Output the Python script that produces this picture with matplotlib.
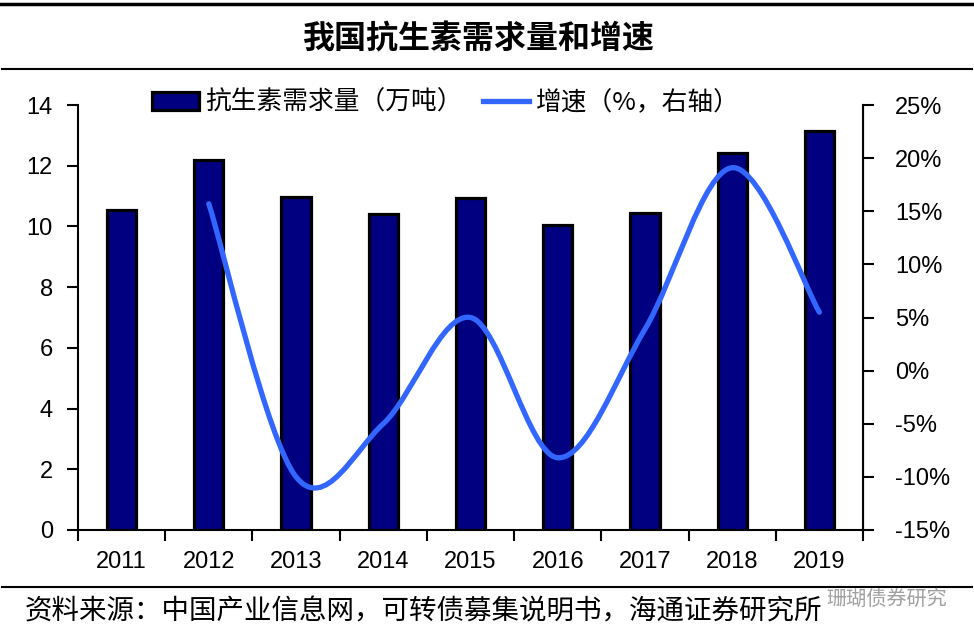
import matplotlib
matplotlib.use("Agg")
import matplotlib.pyplot as plt
from matplotlib.path import Path
from matplotlib.patches import PathPatch, Patch
from matplotlib.lines import Line2D
import numpy as np

plt.rcParams['font.family'] = ['Noto Sans CJK SC', 'DejaVu Sans']

years = ['2011', '2012', '2013', '2014', '2015', '2016', '2017', '2018', '2019']
demand = [10.54, 12.19, 10.97, 10.42, 10.95, 10.05, 10.44, 12.43, 13.14]
growth_years = ['2012', '2013', '2014', '2015', '2016', '2017', '2018', '2019']
growth = [15.7, -10.0, -5.0, 5.0, -8.2, 3.9, 19.1, 5.5]
left_ticks = [0, 2, 4, 6, 8, 10, 12, 14]
right_ticks = [-15, -10, -5, 0, 5, 10, 15, 20, 25]

title = '我国抗生素需求量和增速'
label_bar = '抗生素需求量（万吨）'
label_line = '增速（%，右轴）'
source = '资料来源：中国产业信息网，可转债募集说明书，海通证券研究所'
watermark = '珊瑚债券研究'

W, H = 974, 641
fig = plt.figure(figsize=(W / 100, H / 100), dpi=100)

L, R, T, B = 78, 863, 105, 530
ax = fig.add_axes([L / W, 1 - B / H, (R - L) / W, (B - T) / H])
ax2 = ax.twinx()

x = np.arange(len(years))
ax.bar(x, demand, width=0.335, color='#000080', edgecolor='black', linewidth=2.3, zorder=2)
ax.set_xlim(-0.5, len(years) - 0.5)
ax.set_ylim(0, 14)
ax.set_yticks(left_ticks)
ax.set_yticklabels([str(t) for t in left_ticks], fontfamily='Liberation Sans', fontsize=17)
ax.set_xticks(x)
ax.set_xticklabels(years, fontfamily='Liberation Sans', fontsize=17)
ax.set_xticks(np.arange(-0.5, len(years), 1.0), minor=True)
ax.tick_params(axis='x', which='major', length=0, pad=15)
ax.tick_params(axis='x', which='minor', length=8, width=1.5, direction='out')
ax.tick_params(axis='y', length=8, width=1.5, direction='out', pad=10)
for s in ['top']:
    ax.spines[s].set_visible(False)
    ax2.spines[s].set_visible(False)
for s in ['left', 'bottom']:
    ax.spines[s].set_linewidth(1.5)
ax2.spines['right'].set_linewidth(1.5)
ax2.spines['left'].set_visible(False)
ax2.spines['bottom'].set_visible(False)

ax2.set_ylim(-15, 25)
ax2.set_yticks(right_ticks)
ax2.set_yticklabels([f'{t}%' for t in right_ticks], fontfamily='Liberation Sans', fontsize=17)
ax2.tick_params(axis='y', length=8, width=1.5, direction='out', pad=15)

# smooth line (Catmull-Rom as cubic Bezier path through the data points)
gx = [years.index(y) for y in growth_years]
P = np.column_stack([gx, growth]).astype(float)
n = len(P)
verts = [tuple(P[0])]
codes = [Path.MOVETO]
for i in range(n - 1):
    p0 = P[i - 1] if i > 0 else P[i]
    p1 = P[i]
    p2 = P[i + 1]
    p3 = P[i + 2] if i + 2 < n else P[i + 1]
    c1 = p1 + (p2 - p0) / 6.0
    c2 = p2 - (p3 - p1) / 6.0
    verts += [tuple(c1), tuple(c2), tuple(p2)]
    codes += [Path.CURVE4] * 3
path = Path(verts, codes)
ax2.add_patch(PathPatch(path, facecolor='none', edgecolor='#3366FF', linewidth=3.8,
                        capstyle='round', zorder=3))

# legend
handles = [Patch(facecolor='#000080', edgecolor='black', linewidth=2.3),
           Line2D([0], [0], color='#3366FF', linewidth=3.8)]
fig.legend(handles, [label_bar, label_line], loc='center', bbox_to_anchor=(446 / W, 1 - 103 / H),
           ncol=2, frameon=False, fontsize=18.5, handlelength=1.8, handleheight=0.75,
           handletextpad=0.25, columnspacing=0.8, borderpad=0)

# title and rules
fig.text(479 / W, 1 - 40 / H, title, ha='center', va='center', fontsize=23, fontweight='bold')
fig.add_artist(Line2D([0, 1], [1 - 4 / H, 1 - 4 / H], color='black', linewidth=2.5))
fig.add_artist(Line2D([2 / W, 972 / W], [1 - 69 / H, 1 - 69 / H], color='black', linewidth=1.5))
fig.add_artist(Line2D([2 / W, 972 / W], [1 - 587 / H, 1 - 587 / H], color='black', linewidth=1.5))

fig.text(25 / W, 1 - 612 / H, source, ha='left', va='center', fontsize=19.8)
fig.text(826 / W, 1 - 599 / H, watermark, ha='left', va='center', fontsize=14.5, color='#a0a0a0')

fig.savefig('out.png', dpi=100)
